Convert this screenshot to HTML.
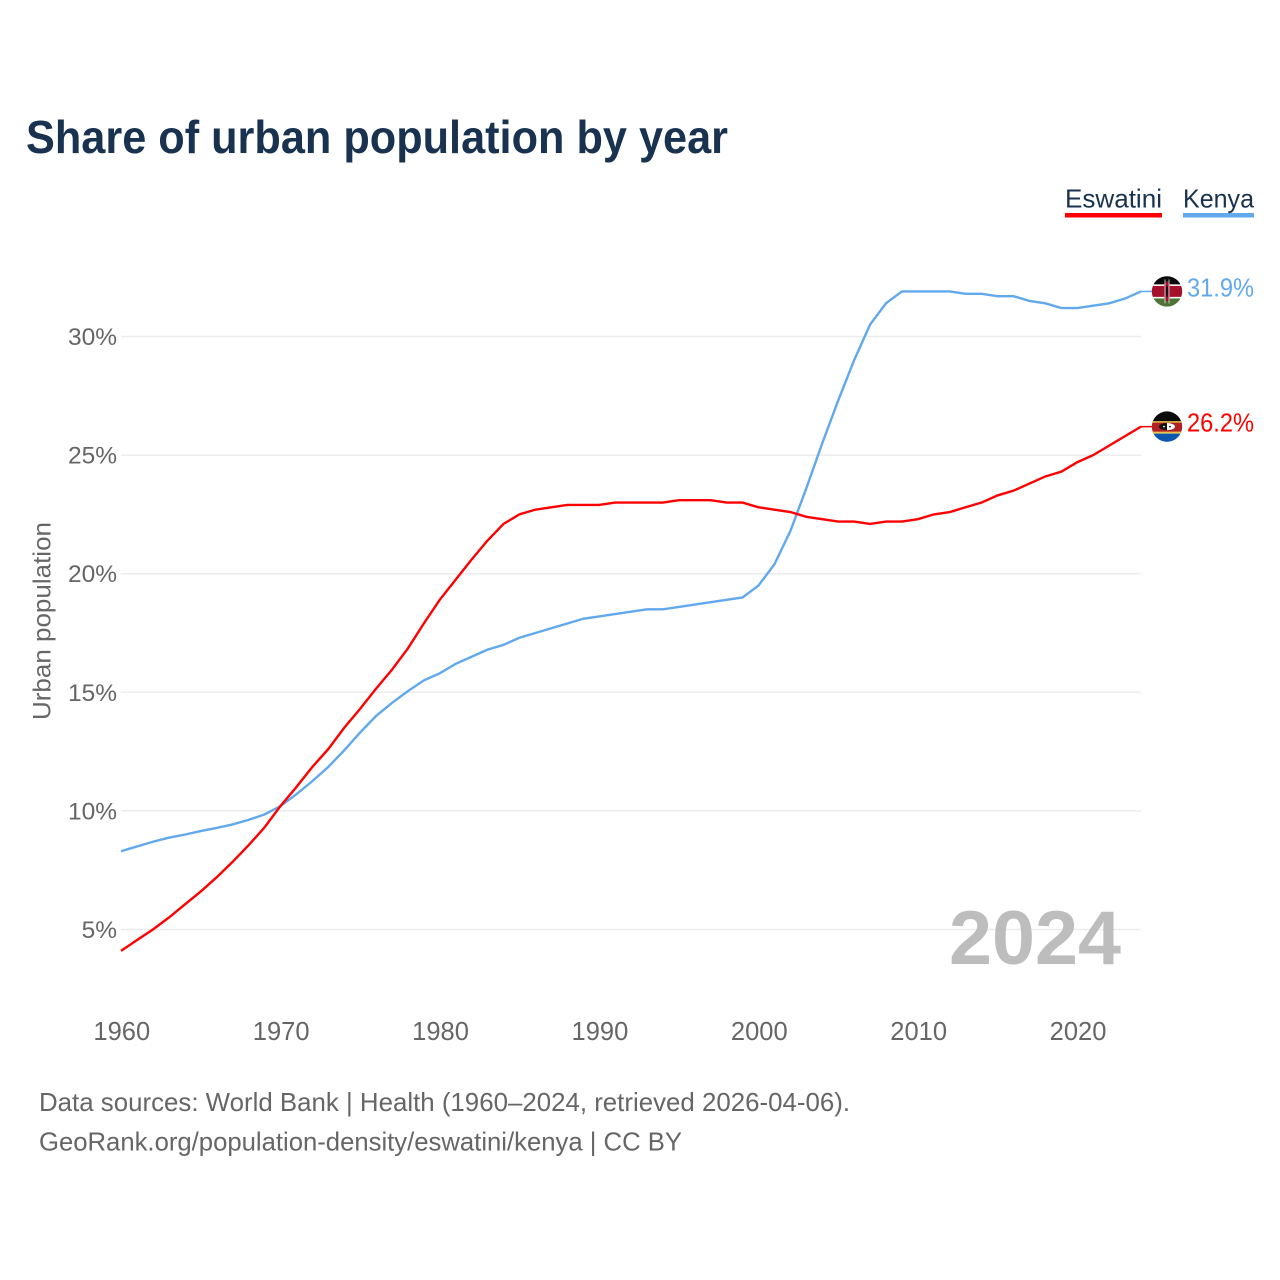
<!DOCTYPE html>
<html lang="en">
<head>
<meta charset="utf-8">
<title>Share of urban population by year</title>
<style>
html,body{margin:0;padding:0;background:#fff;}
svg{display:block;font-family:"Liberation Sans",sans-serif;}
</style>
</head>
<body>
<svg id="chart" xmlns="http://www.w3.org/2000/svg" width="1280" height="1280" viewBox="0 0 1280 1280">
  <defs>
    <clipPath id="flag-clip-kenya"><circle id="kenya-clip-circle" cx="1167" cy="291" r="15.2"></circle></clipPath>
    <clipPath id="flag-clip-eswatini"><circle id="eswatini-clip-circle" cx="1167" cy="426" r="15.2"></circle></clipPath>
  </defs>
  <rect x="0" y="0" width="1280" height="1280" fill="#ffffff"></rect>
  <text x="26" y="153" font-size="46" font-weight="700" fill="#18324f" textLength="702" lengthAdjust="spacingAndGlyphs">Share of urban population by year</text>

  <g>
    <text x="1065" y="207.5" font-size="26" fill="#18324f" textLength="97" lengthAdjust="spacingAndGlyphs">Eswatini</text>
    <rect x="1065" y="213" width="97" height="4.5" fill="#ff0000"></rect>
  </g>
  <g>
    <text x="1183" y="207.5" font-size="26" fill="#18324f" textLength="71" lengthAdjust="spacingAndGlyphs">Kenya</text>
    <rect x="1183" y="213" width="71" height="4.5" fill="#62a8ec"></rect>
  </g>

  <g id="grid"></g>
  <g id="y-ticks"></g>
  <g id="x-ticks"></g>

  <text transform="translate(50.5,621) rotate(-90)" text-anchor="middle" font-size="25" fill="#666666" textLength="198" lengthAdjust="spacingAndGlyphs">Urban population</text>

  <text x="1121" y="964" text-anchor="end" font-size="76" font-weight="700" fill="#bdbdbd" textLength="172" lengthAdjust="spacingAndGlyphs">2024</text>

  <g id="series"></g>

  <g id="flag-kenya">
    <g clip-path="url(#flag-clip-kenya)">
      <rect x="1150" y="274" width="34" height="10" fill="#0b0b0b"></rect>
      <rect x="1150" y="284" width="34" height="2" fill="#ffffff"></rect>
      <rect x="1150" y="285.5" width="34" height="11" fill="#a5102a"></rect>
      <rect x="1150" y="296.5" width="34" height="2" fill="#ffffff"></rect>
      <rect x="1150" y="298" width="34" height="10" fill="#4d7336"></rect>
      <ellipse cx="1167" cy="291" rx="3.6" ry="10" fill="#a5102a"></ellipse>
      <ellipse cx="1167" cy="291" rx="1.2" ry="6" fill="#111111"></ellipse>
      <path d="M1165 279L1165 303M1169 279L1169 303" stroke="#e6e6e6" stroke-width="0.8" fill="none"></path>
    </g>
  </g>
  <g id="flag-eswatini">
    <g clip-path="url(#flag-clip-eswatini)">
      <rect x="1150" y="409" width="34" height="12" fill="#0b0b0b"></rect>
      <rect x="1150" y="420.5" width="34" height="2" fill="#e8c04a"></rect>
      <rect x="1150" y="422" width="34" height="9.5" fill="#b21f24"></rect>
      <rect x="1150" y="431" width="34" height="2" fill="#e8c04a"></rect>
      <rect x="1150" y="433" width="34" height="10" fill="#0b57b0"></rect>
      <ellipse cx="1167" cy="426" rx="8" ry="3.6" fill="#111111"></ellipse>
      <path d="M1167 422.4A8 3.6 0 0 1 1167 429.6Z" fill="#ffffff"></path>
      <circle cx="1164" cy="426" r="0.9" fill="#ffffff"></circle>
      <circle cx="1170" cy="426" r="0.9" fill="#111111"></circle>
    </g>
  </g>

  <text id="value-kenya" x="1187" y="297" font-size="25.5" fill="#62a8ec" textLength="67" lengthAdjust="spacingAndGlyphs"></text>
  <text id="value-eswatini" x="1187" y="433" font-size="25.5" fill="#ff0000" textLength="67" lengthAdjust="spacingAndGlyphs"></text>

  <text x="39" y="1111" font-size="26" fill="#666666" textLength="811" lengthAdjust="spacingAndGlyphs">Data sources: World Bank | Health (1960–2024, retrieved 2026-04-06).</text>
  <text x="39" y="1150.5" font-size="26" fill="#666666" textLength="643" lengthAdjust="spacingAndGlyphs">GeoRank.org/population-density/eswatini/kenya | CC BY</text>
</svg>
<script>
var startYear = 1960;
var endYear = 2024;
var yTickValues = [5, 10, 15, 20, 25, 30];
var xTickValues = [1960, 1970, 1980, 1990, 2000, 2010, 2020];
var eswatiniValues = [4.1,4.55,5.0,5.5,6.05,6.6,7.2,7.85,8.55,9.3,10.2,11.0,11.85,12.6,13.5,14.3,15.15,15.95,16.85,17.9,18.9,19.75,20.6,21.4,22.1,22.5,22.7,22.8,22.9,22.9,22.9,23.0,23.0,23.0,23.0,23.1,23.1,23.1,23.0,23.0,22.8,22.7,22.6,22.4,22.3,22.2,22.2,22.1,22.2,22.2,22.3,22.5,22.6,22.8,23.0,23.3,23.5,23.8,24.1,24.3,24.7,25.0,25.4,25.8,26.2];
var kenyaValues = [8.3,8.5,8.7,8.87,9.0,9.15,9.28,9.43,9.62,9.85,10.2,10.7,11.25,11.85,12.55,13.3,14.0,14.55,15.05,15.5,15.8,16.2,16.5,16.8,17.0,17.3,17.5,17.7,17.9,18.1,18.2,18.3,18.4,18.5,18.5,18.6,18.7,18.8,18.9,19.0,19.5,20.4,21.8,23.6,25.5,27.3,29.0,30.5,31.4,31.9,31.9,31.9,31.9,31.8,31.8,31.7,31.7,31.5,31.4,31.2,31.2,31.3,31.4,31.6,31.9];

var SVG_NS = 'http://www.w3.org/2000/svg';
function xScale(year) { return 121 + (year - startYear) * (1020 / (endYear - startYear)); }
function yScale(pct) { return 929.5 - (pct - 5) * 23.72; }

var gridGroup = document.getElementById('grid');
var yTickGroup = document.getElementById('y-ticks');
var xTickGroup = document.getElementById('x-ticks');
var seriesGroup = document.getElementById('series');

yTickValues.forEach(function (v) {
  var line = document.createElementNS(SVG_NS, 'line');
  
  
  line.setAttribute('x1', 121);
  line.setAttribute('x2', 1141);
  line.setAttribute('y1', yScale(v));
  line.setAttribute('y2', yScale(v));
  line.setAttribute('stroke', '#ececec');
  line.setAttribute('stroke-width', 1.5);
  gridGroup.appendChild(line);

  var label = document.createElementNS(SVG_NS, 'text');
  
  
  label.setAttribute('x', 117);
  label.setAttribute('y', yScale(v) + 8.5);
  label.setAttribute('text-anchor', 'end');
  label.setAttribute('font-size', 24.5);
  label.setAttribute('fill', '#666666');
  label.textContent = v + '%';
  yTickGroup.appendChild(label);
});

xTickValues.forEach(function (v) {
  var label = document.createElementNS(SVG_NS, 'text');
  
  
  label.setAttribute('x', xScale(v) + 0.8);
  label.setAttribute('y', 1040);
  label.setAttribute('text-anchor', 'middle');
  label.setAttribute('font-size', 25.5);
  label.setAttribute('fill', '#666666');
  label.textContent = String(v);
  xTickGroup.appendChild(label);
});

function buildPath(values) {
  var d = '';
  for (var i = 0; i < values.length; i++) {
    d += (i === 0 ? 'M' : 'L') + xScale(startYear + i).toFixed(2) + ' ' + yScale(values[i]).toFixed(2);
  }
  return d;
}

var kenyaLine = document.createElementNS(SVG_NS, 'path');


kenyaLine.setAttribute('d', buildPath(kenyaValues));
kenyaLine.setAttribute('fill', 'none');
kenyaLine.setAttribute('stroke', '#62a8ec');
kenyaLine.setAttribute('stroke-width', 2.4);
seriesGroup.appendChild(kenyaLine);

var eswatiniLine = document.createElementNS(SVG_NS, 'path');


eswatiniLine.setAttribute('d', buildPath(eswatiniValues));
eswatiniLine.setAttribute('fill', 'none');
eswatiniLine.setAttribute('stroke', '#ff0000');
eswatiniLine.setAttribute('stroke-width', 2.4);
seriesGroup.appendChild(eswatiniLine);

var kenyaLast = kenyaValues[kenyaValues.length - 1];
var eswatiniLast = eswatiniValues[eswatiniValues.length - 1];

var kenyaConnector = document.createElementNS(SVG_NS, 'line');


kenyaConnector.setAttribute('x1', 1141);
kenyaConnector.setAttribute('x2', 1152);
kenyaConnector.setAttribute('y1', yScale(kenyaLast));
kenyaConnector.setAttribute('y2', yScale(kenyaLast));
kenyaConnector.setAttribute('stroke', '#62a8ec');
kenyaConnector.setAttribute('stroke-width', 1.5);
seriesGroup.appendChild(kenyaConnector);

var eswatiniConnector = document.createElementNS(SVG_NS, 'line');


eswatiniConnector.setAttribute('x1', 1141);
eswatiniConnector.setAttribute('x2', 1152);
eswatiniConnector.setAttribute('y1', yScale(eswatiniLast));
eswatiniConnector.setAttribute('y2', yScale(eswatiniLast));
eswatiniConnector.setAttribute('stroke', '#ff0000');
eswatiniConnector.setAttribute('stroke-width', 1.5);
seriesGroup.appendChild(eswatiniConnector);

function placeEnd(flagId, clipId, labelId, value) {
  var py = yScale(value);
  var baseY = Number(document.getElementById(clipId).getAttribute('cy'));
  document.getElementById(flagId).setAttribute('transform', 'translate(0,' + (py - baseY) + ')');
  var lab = document.getElementById(labelId);
  lab.setAttribute('y', py + 5);
  lab.textContent = value.toFixed(1) + '%';
}
placeEnd('flag-kenya', 'kenya-clip-circle', 'value-kenya', kenyaLast);
placeEnd('flag-eswatini', 'eswatini-clip-circle', 'value-eswatini', eswatiniLast);
</script>
</body>
</html>
